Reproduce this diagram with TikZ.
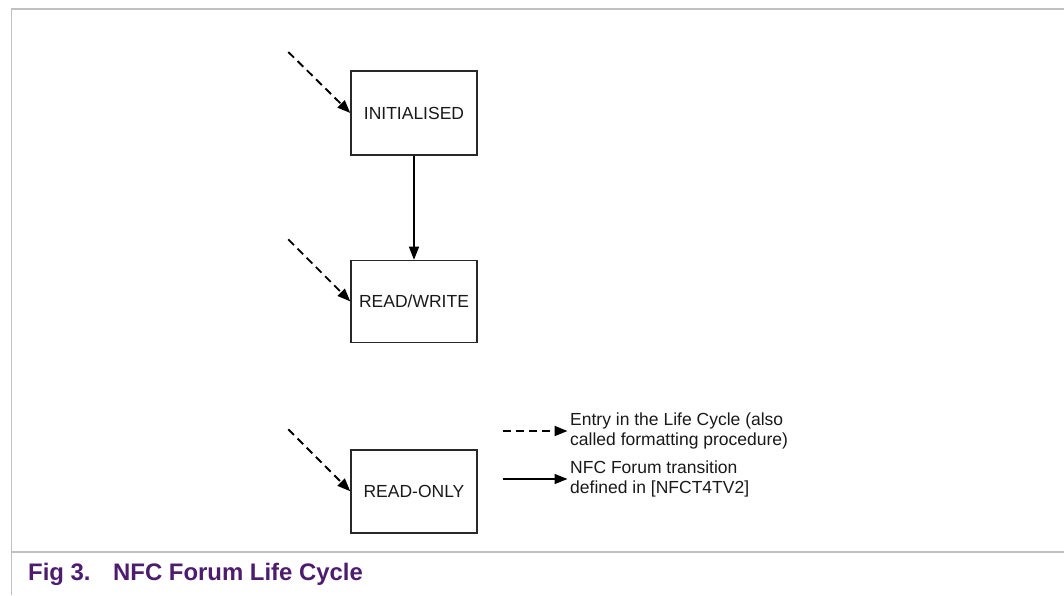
\documentclass[tikz,border=0pt]{standalone}
\usepackage{fontspec}
\setmainfont{Liberation Sans}
\usepackage{tikz}
\usetikzlibrary{
  arrows.meta,
  positioning
}
\definecolor{framecolor}{RGB}{192, 192, 192}
\definecolor{boxcolor}{RGB}{40, 40, 40}
\definecolor{captioncolor}{RGB}{78, 28, 110}
\definecolor{labelcolor}{RGB}{25, 25, 25}
\tikzset{
statetext/.style={
  align=center,
  font=\fontsize{17.5}{19.5}\selectfont,
  text=labelcolor
},
statebox/.style={
  draw=boxcolor,
  line width=1.4pt,
  minimum width=126pt,
  minimum height=84pt,
  statetext
},
legendtext/.style={
  align=left,
  anchor=west,
  inner sep=2.5pt,
  font=\fontsize{17.5}{19.5}\selectfont,
  text=labelcolor
},
captiontext/.style={
  anchor=west,
  inner sep=0pt,
  font=\fontsize{23.9}{26}\selectfont\bfseries,
  text=captioncolor
},
frameline/.style={
  draw=framecolor,
  line width=1.4pt
},
arrow/.style={
  -{Triangle[length=13pt,width=10pt]},
  line width=1.4pt,
  draw=black
},
dashedarrow/.style={
  arrow,
  line width=1.9pt,
  dash pattern=on 8pt off 5pt
}
}
\begin{document}
\begin{tikzpicture}[x=1pt,y=-1pt]
        \useasboundingbox (0,0) rectangle (1064,595);
        \draw[frameline] (1064,9) -- (11.5,9) -- (11.5,595);
        \draw[frameline] (11.5,552) -- (1064,552);

        % states
        \node[statebox] (init) at (414,113) {INITIALISED};
        \node[statebox, minimum height=82pt, below=104pt of init] (rw) {READ/WRITE};
        \node[statebox, minimum height=83pt, below=106pt of rw] (ro) {READ-ONLY};

        % entries into the life cycle
        \coordinate (initin) at ([xshift=-62pt,yshift=61pt]init.west);
        \coordinate (rwin) at ([xshift=-62pt,yshift=62pt]rw.west);
        \coordinate (roin) at ([xshift=-62pt,yshift=62pt]ro.west);
        \draw[dashedarrow] (initin) -- (init.west);
        \draw[dashedarrow] (rwin) -- (rw.west);
        \draw[dashedarrow] (roin) -- (ro.west);

        \draw[arrow] (init.south) -- (rw.north);

        % legend
        \node[legendtext] (entrytxt) at (567.5,431) {Entry in the Life Cycle (also\\called formatting procedure)};
        \node[legendtext] (transtxt) at (567.5,479) {NFC Forum transition\\defined in [NFCT4TV2]};
        \coordinate (entrystart) at (503,431);
        \coordinate (transstart) at (503,479);
        \draw[dashedarrow] (entrystart) -- (entrytxt.west);
        \draw[arrow] (transstart) -- (transtxt.west);

        % caption
        \node[captiontext] (fignum) at (28,574) {Fig 3.};
        \node[captiontext] (figtitle) at (113,574) {NFC Forum Life Cycle};
      \end{tikzpicture}
\end{document}
